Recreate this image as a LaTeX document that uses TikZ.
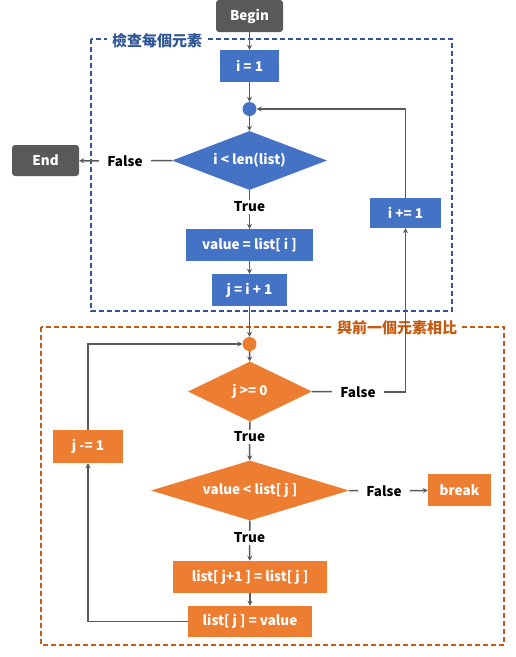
\documentclass[tikz,border=0pt]{standalone}
\usepackage{fontspec}
\setmainfont{Noto Sans CJK TC}
\usetikzlibrary{shapes.geometric,arrows.meta}
\definecolor{blueA}{HTML}{4472C4}
\definecolor{blueB}{HTML}{2F5597}
\definecolor{orangeA}{HTML}{ED7D31}
\definecolor{orangeB}{HTML}{C55A11}
\definecolor{darkbox}{HTML}{595959}
\definecolor{wire}{HTML}{595959}

\begin{document}
\begin{tikzpicture}[x=1pt,y=-1pt,
  every node/.style={font=\bfseries\fontsize{13.5}{15}\selectfont},
  term/.style={fill=darkbox,text=white,rounded corners=3pt,minimum width=67pt,minimum height=32pt,inner sep=0},
  bbox/.style={fill=blueA,text=white,minimum height=32pt,inner sep=0},
  obox/.style={fill=orangeA,text=white,minimum height=32pt,inner sep=0},
  bdia/.style={diamond,fill=blueA,text=white,inner sep=0},
  odia/.style={diamond,fill=orangeA,text=white,inner sep=0},
  dot/.style={circle,minimum size=14pt,inner sep=0},
  lbl/.style={inner sep=0pt,minimum width=52pt,minimum height=14pt},
  headline/.style={font=\bfseries\fontsize{15}{17}\selectfont,fill=white,inner xsep=5pt,inner ysep=2pt},
  wireline/.style={wire,line width=1.5pt},
  arr/.style={wireline,-{Stealth[length=5pt,width=5pt]}},
  frame/.style={line width=1.5pt,dash pattern=on 5pt off 3pt}]
\useasboundingbox (0,0) rectangle (516,657);
% frames
\draw [frame,blueB] (91,39) rectangle (452,311);
\draw [frame,orangeB] (41,327) rectangle (504,645);
\node [headline,text=blueB] (title1) at (157,41) {檢查每個元素};
\node [headline,text=orangeB] (title2) at (397,328) {與前一個元素相比};
% outer loop
\node [term] (begin) at (249.5,16) {Begin};
\node [bbox,minimum width=59pt] (init) at (249.5,66) {i = 1};
\node [dot,fill=blueA] (loop1) at (249.5,109) {};
\node [bdia,aspect=2.63,minimum width=155pt,minimum height=59pt] (cond1) at (249.5,160.5) {i < len(list)};
\node [term,minimum height=31pt] (end) at (45.5,160.5) {End};
\node [lbl] (false1) at (125,161) {False};
\node [lbl] (true1) at (249.5,207) {True};
\node [bbox,minimum width=71pt,minimum height=30pt] (inc) at (405.5,213) {i += 1};
\node [bbox,minimum width=127pt] (val) at (249.5,245) {value = list[ i ]};
\node [bbox,minimum width=75pt] (jset) at (249.5,290) {j = i + 1};
% inner loop
\node [dot,fill=orangeA] (loop2) at (249.5,344) {};
\node [odia,aspect=2.07,minimum width=124pt,minimum height=60pt] (cond2) at (250,391.5) {j >= 0};
\node [lbl] (false2) at (358,392) {False};
\node [lbl] (true2) at (249.5,437) {True};
\node [obox,minimum width=70pt,minimum height=33pt] (dec) at (88,446.5) {j -= 1};
\node [odia,aspect=3.3,minimum width=198pt,minimum height=60pt] (cond3) at (250,490.5) {value < list[ j ]};
\node [lbl] (false3) at (384,491) {False};
\node [obox,minimum width=63pt] (brk) at (459.5,490) {break};
\node [lbl] (true3) at (249.5,538) {True};
\node [obox,minimum width=154pt] (shift) at (250,577) {list[ j+1 ] = list[ j ]};
\node [obox,minimum width=124pt,minimum height=31pt] (store) at (250,621.5) {list[ j ] = value};
% connectors
\draw [arr] (begin) -- (init);
\draw [arr] (init) -- (loop1);
\draw [arr] (loop1) -- (cond1);
\draw [wireline] (cond1.west) -- (false1);
\draw [arr] (false1) -- (end);
\draw [wireline] (cond1.south) -- (true1);
\draw [arr] (true1) -- (val);
\draw [arr] (val) -- (jset);
\draw [arr] (jset) -- (loop2);
\draw [arr] (inc.north) |- (loop1.east);
\draw [arr] (loop2) -- (cond2);
\draw [wireline] (cond2.east) -- (false2);
\draw [arr] (false2.east) -| (inc.south);
\draw [wireline] (cond2.south) -- (true2);
\draw [arr] (true2) -- (cond3);
\draw [wireline] (cond3.east) -- (false3);
\draw [arr] (false3) -- (brk);
\draw [wireline] (cond3.south) -- (true3);
\draw [arr] (true3) -- (shift);
\draw [arr] (shift) -- (store);
\draw [arr] (store.west) -| (dec.south);
\draw [arr] (dec.north) |- (loop2.west);
\end{tikzpicture}
\end{document}
